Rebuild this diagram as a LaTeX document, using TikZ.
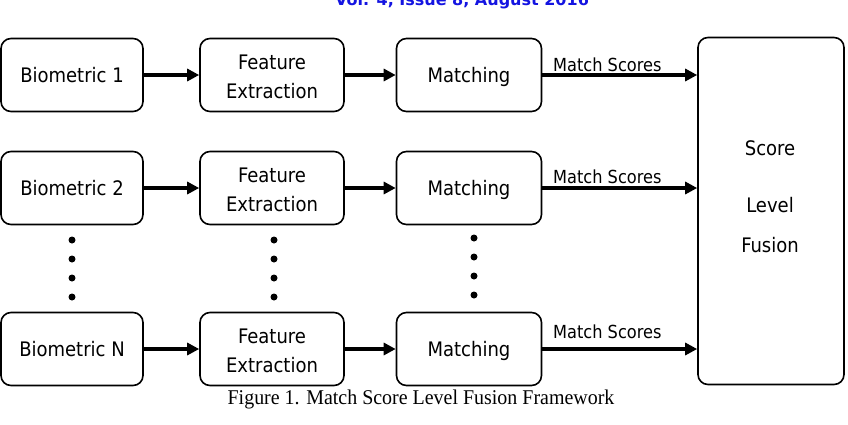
\documentclass[tikz,border=0pt]{standalone}
\usepackage{fontspec}
\setmainfont{DejaVu Sans Condensed}
\newfontfamily\capfont{Liberation Serif}
\newfontfamily\headfont{DejaVu Sans}
\usetikzlibrary{arrows.meta}
\definecolor{headblue}{RGB}{20,20,225}
\newcommand{\twolines}[2]{\begin{tabular}{@{}c@{}}#1\\[2pt]#2\end{tabular}}
\begin{document}
\begin{tikzpicture}[x=1pt,y=-1pt,
  blk/.style={draw=black,line width=1.6pt,rounded corners=10pt,inner sep=0pt,
    align=center,font=\fontsize{20}{27}\selectfont},
  oneline/.style={text height=14.5pt,text depth=0pt},
  twoline/.style={text height=30pt,text depth=12pt},
  flow/.style={line width=3.2pt,-{Triangle[length=12pt,width=12pt]}},
  lbl/.style={font=\fontsize{18}{20}\selectfont,inner sep=0pt,anchor=base west},
  dot/.style={circle,fill=black,inner sep=0pt,minimum size=7pt}]
\useasboundingbox (0,0) rectangle (848,424);
\begin{scope}
\clip (0,0) rectangle (848,424);
\node[font=\headfont\bfseries\fontsize{16}{18}\selectfont,text=headblue,anchor=base,inner sep=0pt]
  (head) at (462,5) {Vol. 4, Issue 8, August 2016};
\end{scope}
% source boxes
\node[blk,oneline,minimum width=142pt,minimum height=73pt] (b1) at (72,75) {Biometric 1};
\node[blk,oneline,minimum width=142pt,minimum height=73pt] (b2) at (72,188) {Biometric 2};
\node[blk,oneline,minimum width=142pt,minimum height=73pt] (bn) at (72,349) {Biometric N};
% feature extraction
\node[blk,twoline,minimum width=144pt,minimum height=73pt] (f1) at (272,75) {\twolines{Feature}{Extraction}};
\node[blk,twoline,minimum width=144pt,minimum height=73pt] (f2) at (272,188) {\twolines{Feature}{Extraction}};
\node[blk,twoline,minimum width=144pt,minimum height=73pt] (fn) at (272,349) {\twolines{Feature}{Extraction}};
% matching
\node[blk,oneline,minimum width=145pt,minimum height=73pt] (m1) at (469,75) {Matching};
\node[blk,oneline,minimum width=145pt,minimum height=73pt] (m2) at (469,188) {Matching};
\node[blk,oneline,minimum width=145pt,minimum height=73pt] (mn) at (469,349) {Matching};
% fusion
\node[blk,minimum width=146pt,minimum height=347pt] (fus) at (771,211) {};
\node[font=\fontsize{20}{20}\selectfont] (t1) at (770,148) {Score};
\node[font=\fontsize{20}{20}\selectfont] (t2) at (770,205) {Level};
\node[font=\fontsize{20}{20}\selectfont] (t3) at (770,245) {Fusion};
% arrows
\foreach \r in {1,2,n}{
  \draw[flow] (b\r.east) -- (f\r.west);
  \draw[flow] (f\r.east) -- (m\r.west);
}
\draw[flow] (m1.east) -- (m1.east -| fus.west) coordinate (e1);
\draw[flow] (m2.east) -- (m2.east -| fus.west) coordinate (e2);
\draw[flow] (mn.east) -- (mn.east -| fus.west) coordinate (e3);
\node[lbl] (s1) at (553,71) {Match Scores};
\node[lbl] (s2) at (553,183) {Match Scores};
\node[lbl] (s3) at (553,338) {Match Scores};
% ellipsis dots
\foreach \y [count=\i] in {240,259,278,297}{
  \node[dot] (da\i) at (72,\y) {};
  \node[dot] (db\i) at (274,\y) {};
}
\foreach \y [count=\i] in {238,257,276,295}{
  \node[dot] (dc\i) at (474,\y) {};
}
% caption
\node[font=\capfont\fontsize{21}{22}\selectfont,anchor=base,inner sep=0pt] (cap) at (421,404)
  {\scalebox{0.95}[1]{Figure 1. Match Score Level Fusion Framework}};
\end{tikzpicture}
\end{document}
